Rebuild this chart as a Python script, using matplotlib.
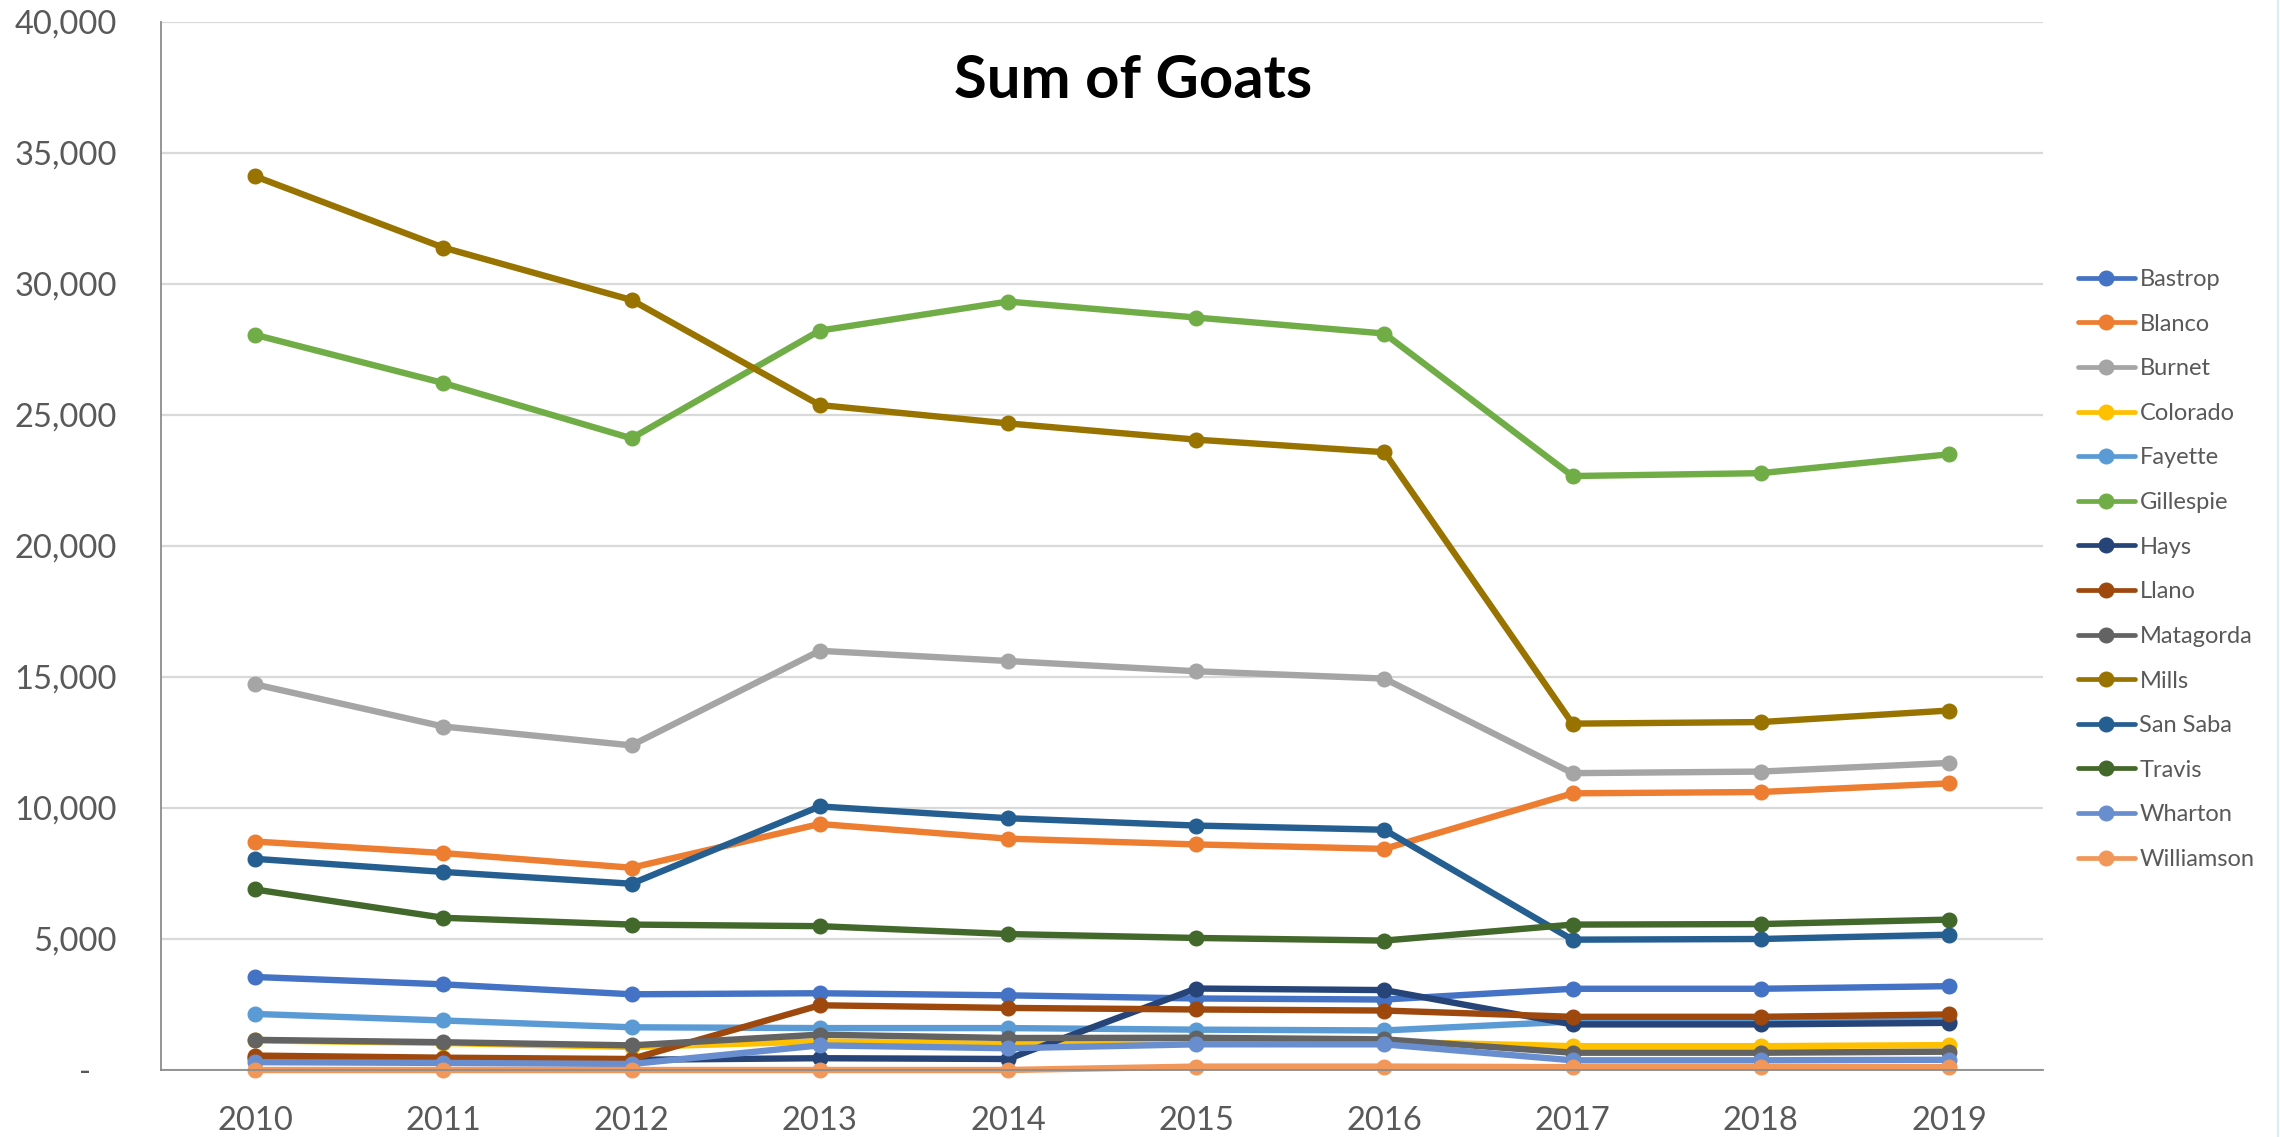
from matplotlib import pyplot as plt
from matplotlib.lines import Line2D

years = [2010, 2011, 2012, 2013, 2014, 2015, 2016, 2017, 2018, 2019]

counties = ['Bastrop', 'Blanco', 'Burnet', 'Colorado', 'Fayette', 'Gillespie', 'Hays',
            'Llano', 'Matagorda', 'Mills', 'San Saba', 'Travis', 'Wharton', 'Williamson']

bastrop = [3550, 3270, 2890, 2930, 2850, 2730, 2690, 3100, 3100, 3200]
blanco = [8720, 8280, 7720, 9390, 8830, 8610, 8440, 10560, 10610, 10940]
burnet = [14720, 13110, 12390, 16000, 15610, 15220, 14940, 11330, 11390, 11720]
colorado = [1130, 1030, 880, 1090, 990, 1100, 1080, 910, 910, 950]
fayette = [2140, 1890, 1630, 1600, 1600, 1540, 1510, 1850, 1850, 1880]
gillespie = [28060, 26220, 24110, 28220, 29330, 28720, 28110, 22670, 22780, 23500]
hays = [450, 420, 390, 450, 420, 3110, 3050, 1740, 1740, 1800]
llano = [550, 470, 420, 2470, 2370, 2310, 2270, 2030, 2030, 2120]
matagorda = [1150, 1060, 940, 1350, 1220, 1230, 1170, 660, 660, 700]
mills = [34110, 31390, 29390, 25380, 24680, 24060, 23580, 13220, 13280, 13720]
san_saba = [8060, 7560, 7110, 10060, 9610, 9330, 9170, 4975, 5000, 5165]
travis = [6890, 5810, 5550, 5490, 5190, 5040, 4940, 5550, 5570, 5740]
wharton = [300, 270, 230, 940, 830, 980, 980, 370, 370, 390]
williamson = [0, 0, 0, 0, 0, 130, 130, 110, 110, 110]

series = [bastrop, blanco, burnet, colorado, fayette, gillespie, hays,
          llano, matagorda, mills, san_saba, travis, wharton, williamson]

# excel office palette: accents, then darker, then lighter
colors = ['#4472C4', '#ED7D31', '#A5A5A5', '#FFC000', '#5B9BD5', '#70AD47', '#264478',
          '#9E480E', '#636363', '#997300', '#255E91', '#43682B', '#698ED0', '#F1975A']

yticks = [0, 5000, 10000, 15000, 20000, 25000, 30000, 35000, 40000]
ytick_labels = ['-   ' if v == 0 else '{:,}'.format(v) for v in yticks]

plt.rcParams['font.family'] = ['Lato', 'DejaVu Sans']

fig = plt.figure(figsize=(22.8, 11.37), dpi=100)
ax = fig.add_axes([161 / 2280, 1 - 1070 / 1137, (2043 - 161) / 2280, (1070 - 22) / 1137])

x = list(range(len(years)))
for name, vals, c in zip(counties, series, colors):
    ax.plot(x, vals, color=c, linewidth=4.6, marker='o', markersize=10.5,
            solid_capstyle='round', label=name, clip_on=False)

ax.set_xlim(-0.5, len(years) - 0.5)
ax.set_ylim(0, 40000)
ax.set_xticks(x)
ax.set_xticklabels([str(y) for y in years])
ax.set_yticks(yticks)
ax.set_yticklabels(ytick_labels)
ax.tick_params(axis='both', length=0, labelsize=23.5, colors='#595959')
ax.tick_params(axis='y', pad=32)
ax.tick_params(axis='x', pad=26)

ax.grid(axis='y', color='#D9D9D9', linewidth=1.6)
ax.set_axisbelow(True)
for s in ['top', 'right']:
    ax.spines[s].set_visible(False)
for s in ['left', 'bottom']:
    ax.spines[s].set_color('#8C8C8C')
    ax.spines[s].set_linewidth(1.3)

fig.text(1133 / 2280, 1 - 98 / 1137, 'Sum of Goats', ha='center', va='baseline',
         fontsize=43, fontweight='bold', color='black')

handles = [Line2D([0], [0], color=c, linewidth=3.4, marker='o', markersize=10.5,
                  solid_capstyle='round') for c in colors]
fig.legend(handles, counties, loc='upper left', bbox_to_anchor=(2078 / 2280, 1 - 269 / 1137),
           frameon=False, fontsize=17, labelcolor='#595959', handlelength=2.4,
           handletextpad=0.2, labelspacing=1.0, borderpad=0, borderaxespad=0)

# thin chart border on the right edge
fig.add_artist(Line2D([2278 / 2280, 2278 / 2280], [0, 1], color='#D5EEF0', linewidth=1.5))

fig.savefig('out.png', dpi=100)
